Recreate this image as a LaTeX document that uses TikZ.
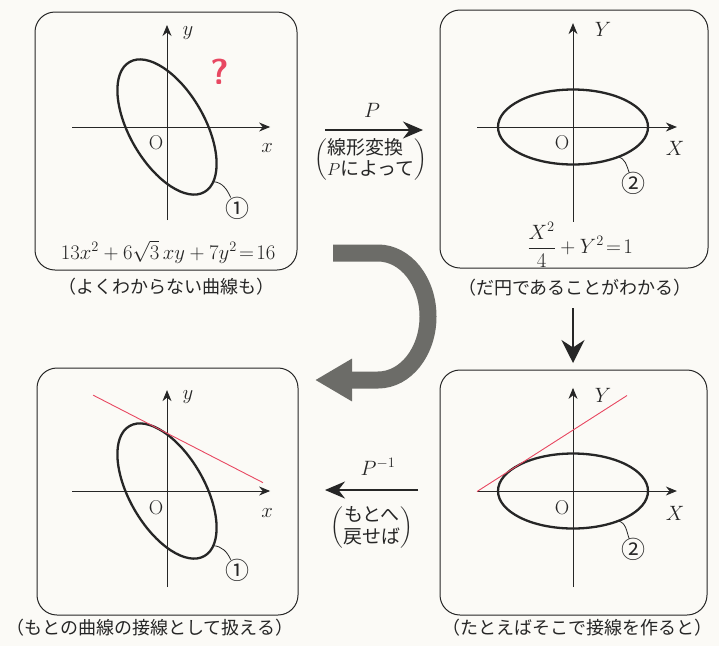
\documentclass[tikz,border=0pt]{standalone}
\usepackage{fontspec}
\usepackage{amsmath}
\newfontfamily\jfont{Noto Sans CJK JP}
\usetikzlibrary{arrows.meta,positioning,calc}
\definecolor{inkgray}{RGB}{38,38,38}
\definecolor{bandgray}{RGB}{108,108,104}
\definecolor{pinkred}{RGB}{232,72,98}
\definecolor{paper}{RGB}{251,250,246}

\begin{document}
\begin{tikzpicture}[
        x=1pt, y=-1pt,
        panel/.style={draw=inkgray, line width=1pt, rounded corners=20pt, inner sep=0pt},
        axisline/.style={draw=inkgray, line width=0.9pt, -{Stealth[length=11pt,width=9pt]}},
        curveline/.style={draw=inkgray, line width=2.3pt},
        leadline/.style={draw=inkgray, line width=0.8pt},
        tanline/.style={draw=pinkred, line width=0.9pt},
        lbl/.style={font=\fontsize{20}{22}\selectfont, text=inkgray, inner sep=1pt},
        eqn/.style={font=\fontsize{21}{24}\selectfont, text=inkgray, inner sep=1pt},
        numlbl/.style={font=\jfont\fontsize{24}{26}\selectfont, text=inkgray, inner sep=0pt},
        captext/.style={font=\jfont\fontsize{18}{21}\selectfont, text=inkgray, inner sep=0pt},
        notetext/.style={font=\jfont\fontsize{19}{21}\selectfont, text=inkgray, inner sep=0pt},
        maparrow/.style={draw=inkgray, line width=1.5pt, -{Stealth[length=20pt,width=17pt]}},
        bigarrow/.style={draw=bandgray, line width=17pt, -{Triangle[length=37pt,width=40pt]}}
    ]
        \fill[paper] (0,0) rectangle (719,646);
        \useasboundingbox (0,0) rectangle (719,646);

        % Panels
        \node (origpanel) [panel, minimum width=262pt, minimum height=258pt] at (166,141) {};
        \node (stdpanel) [panel, minimum width=268pt, minimum height=258pt] at (574,139) {};
        \node (backpanel) [panel, minimum width=261pt, minimum height=247pt] at (167.5,491.5) {};
        \node (tanpanel) [panel, minimum width=267pt, minimum height=245pt] at (573.5,492.5) {};

        % Captions
        \node (origcap) [captext] at (166,287) {（よくわからない曲線も）};
        \node (stdcap) [captext] at (575,288) {（だ円であることがわかる）};
        \node (backcap) [captext] at (150,628) {（もとの曲線の接線として扱える）};
        \node (tancap) [captext] at (577,628) {（たとえばそこで接線を作ると）};

        % Original curve
        \begin{scope}[shift={(167,127)}, x=37.5pt, y=37.5pt]
            \draw[axisline] (-2.53,0) -- (2.75,0);
            \draw[axisline] (0,-2.48) -- (0,2.72);
            \draw[curveline, rotate=-60] (0,0) ellipse (2 and 1);
            \draw[leadline] (1.236,-1.457) to[out=-5,in=115] (1.7,-1.88);
            \node (origy) [lbl] at (0.56,2.51) {$y$};
            \node (origx) [lbl] at (2.67,-0.56) {$x$};
            \node (origO) [lbl] at (-0.29,-0.43) {O};
            \node (orignum) [numlbl] at (1.89,-2.16) {①};
            \node (qmark) [text=pinkred, font=\sffamily\bfseries\fontsize{36}{40}\selectfont] at (1.41,1.47) {?};
            \node (origeq) [eqn] at (0.03,-3.33) {$13x^2+6\sqrt{3}\,xy+7y^2\!=\!16$};
        \end{scope}

        % Standard ellipse
        \begin{scope}[shift={(573,127)}, x=37.5pt, y=37.5pt]
            \draw[axisline] (-2.56,0) -- (2.77,0);
            \draw[axisline] (0,-2.53) -- (0,2.77);
            \draw[curveline] (0,0) ellipse (2 and 1);
            \draw[leadline] (1.2,-0.8) to[out=-10,in=110] (1.5,-1.22);
            \node (stdY) [lbl] at (0.8,2.59) {$Y$};
            \node (stdX) [lbl] at (2.72,-0.56) {$X$};
            \node (stdO) [lbl] at (-0.29,-0.43) {O};
            \node (stdnum) [numlbl] at (1.6,-1.49) {②};
            \node (stdeq) [eqn] at (0.19,-3.15) {$\dfrac{X^2}{4}+Y^2\!=\!1$};
        \end{scope}

        % Tangent on standard ellipse
        \begin{scope}[shift={(573,491)}, x=37.5pt, y=37.5pt]
            \draw[axisline] (-2.56,0) -- (2.77,0);
            \draw[axisline] (0,-2.56) -- (0,2.75);
            \draw[curveline] (0,0) ellipse (2 and 1);
            \draw[tanline] (-2.56,-0.014) -- (1.44,2.546);
            \draw[leadline] (1.2,-0.8) to[out=-10,in=110] (1.5,-1.28);
            \node (tanY) [lbl] at (0.8,2.56) {$Y$};
            \node (tanX) [lbl] at (2.72,-0.59) {$X$};
            \node (tanO) [lbl] at (-0.29,-0.45) {O};
            \node (tannum) [numlbl] at (1.6,-1.55) {②};
        \end{scope}

        % Tangent moved back
        \begin{scope}[shift={(167,491)}, x=37.5pt, y=37.5pt]
            \draw[axisline] (-2.53,0) -- (2.75,0);
            \draw[axisline] (0,-2.56) -- (0,2.69);
            \draw[curveline, rotate=-60] (0,0) ellipse (2 and 1);
            \draw[tanline] (-1.97,2.556) -- (2.56,0.223);
            \draw[leadline] (1.236,-1.457) to[out=-5,in=115] (1.7,-1.83);
            \node (backy) [lbl] at (0.56,2.51) {$y$};
            \node (backx) [lbl] at (2.67,-0.59) {$x$};
            \node (backO) [lbl] at (-0.29,-0.45) {O};
            \node (backnum) [numlbl] at (1.89,-2.11) {①};
        \end{scope}

        % Transformation arrows
        \coordinate (pstart) at (325,130);
        \coordinate (pend) at (423,130);
        \draw[maparrow] (pstart) -- (pend);
        \node (plab) [lbl] at (372,110) {$P$};
        \node (pnote) [notetext] at (371,160) {$\left(\begin{tabular}{@{}l@{}}線形変換\\$P$によって\end{tabular}\right)$};

        \coordinate (qstart) at (418,490);
        \coordinate (qend) at (325,490);
        \draw[maparrow] (qstart) -- (qend);
        \node (qlab) [lbl] at (378,467) {$P^{-1}$};
        \node (qnote) [notetext] at (372,528) {$\left(\begin{tabular}{@{}c@{}}もとへ\\戻せば\end{tabular}\right)$};

        \coordinate (dstart) at (573,308);
        \coordinate (dend) at (573,363);
        \draw[maparrow, -{Stealth[length=23pt,width=23pt]}] (dstart) -- (dend);

        % Big return arrow
        \coordinate (bstart) at (333,253);
        \coordinate (bend) at (315,380);
        \draw[bigarrow] (bstart) -- (378,253) arc[start angle=-90, end angle=90, x radius=50, y radius=63.5] -- (bend);

    \end{tikzpicture}
\end{document}
